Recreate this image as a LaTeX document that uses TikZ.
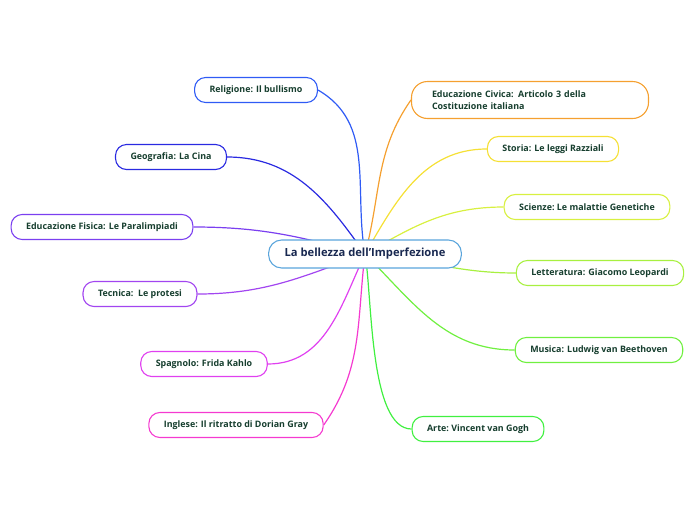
\documentclass[tikz,border=0pt]{standalone}
\usepackage{fontspec}
\setmainfont{Open Sans}
\usepackage{tikz}
\usetikzlibrary{backgrounds}
\definecolor{maptext}{RGB}{22,62,46}
\definecolor{maptitle}{RGB}{24,40,80}
\definecolor{mapcenter}{RGB}{90,165,220}
\definecolor{mapreli}{RGB}{47,91,245}
\definecolor{mapgeo}{RGB}{42,42,225}
\definecolor{mapfis}{RGB}{123,63,240}
\definecolor{maptec}{RGB}{162,69,240}
\definecolor{mapspa}{RGB}{224,64,240}
\definecolor{maping}{RGB}{245,58,208}
\definecolor{mapciv}{RGB}{245,160,48}
\definecolor{mapsto}{RGB}{245,224,53}
\definecolor{mapsci}{RGB}{216,240,64}
\definecolor{maplet}{RGB}{168,240,64}
\definecolor{mapmus}{RGB}{112,240,64}
\definecolor{mapart}{RGB}{64,240,64}

\begin{document}
\begin{tikzpicture}[
    x=1pt, y=-1pt,
    font=\fontsize{8.9}{11}\selectfont\bfseries,
    topic/.style={draw=#1, line width=1.1pt, fill=white, rounded corners=11pt, minimum height=25pt, inner xsep=15pt, text=maptext},
    main/.style={draw=mapcenter, line width=1.1pt, fill=white, rounded corners=13pt, minimum height=28pt, inner xsep=16pt, text=maptitle, font=\fontsize{11.2}{13}\selectfont\bfseries},
    branch/.style={draw=#1, line width=1.2pt}
  ]
    \useasboundingbox (0,0) rectangle (696,520);

    \node[main] (center) at (365,254) {La bellezza dell'Imperfezione};

    % left side
    \node[topic=mapreli] (religione) at (256,90) {Religione: Il bullismo};
    \node[topic=mapgeo] (geografia) at (171,157) {Geografia: La Cina};
    \node[topic=mapfis] (fisica) at (102,227) {Educazione Fisica: Le Paralimpiadi};
    \node[topic=maptec] (tecnica) at (140,294) {Tecnica:\ \ Le protesi};
    \node[topic=mapspa] (spagnolo) at (204,364) {Spagnolo: Frida Kahlo};
    \node[topic=maping] (inglese) at (236,425) {Inglese: Il ritratto di Dorian Gray};

    % right side
    \node[topic=mapciv, text width=196pt, align=left, inner xsep=20.5pt, minimum height=37pt, rounded corners=16pt, font=\fontsize{8.9}{12.5}\selectfont\bfseries] (civica) at (530,100) {Educazione Civica: Articolo 3 della\\Costituzione italiana};
    \node[topic=mapsto] (storia) at (553,149) {Storia: Le leggi Razziali};
    \node[topic=mapsci] (scienze) at (587,207) {Scienze:\ Le malattie Genetiche};
    \node[topic=maplet] (letteratura) at (600,273) {Letteratura: Giacomo Leopardi};
    \node[topic=mapmus] (musica) at (599,350) {Musica: Ludwig van Beethoven};
    \node[topic=mapart] (arte) at (478,429) {Arte:\ Vincent van Gogh};

    \begin{pgfonlayer}{background}
      \draw[branch=mapreli] (religione.east) to[out=-30, in=100] (center.center);
      \draw[branch=mapgeo] (geografia.east) to[out=0, in=125] (center.center);
      \draw[branch=mapfis] (fisica.east) to[out=0, in=165] (center.center);
      \draw[branch=maptec] (tecnica.east) to[out=0, in=-160] (center.center);
      \draw[branch=mapspa] (spagnolo.east) to[out=0, in=-115] (center.center);
      \draw[branch=maping] (inglese.east) to[out=55, in=-97] (center.center);
      \draw[branch=mapciv] (civica.west) to[out=235, in=75] (center.center);
      \draw[branch=mapsto] (storia.west) to[out=180, in=60] (center.center);
      \draw[branch=mapsci] (scienze.west) to[out=180, in=30] (center.center);
      \draw[branch=maplet] (letteratura.west) to[out=180, in=-5] (center.center);
      \draw[branch=mapmus] (musica.west) to[out=180, in=-45] (center.center);
      \draw[branch=mapart] (arte.west) to[out=180, in=-80, looseness=0.6] (center.center);
    \end{pgfonlayer}
  \end{tikzpicture}
\end{document}
